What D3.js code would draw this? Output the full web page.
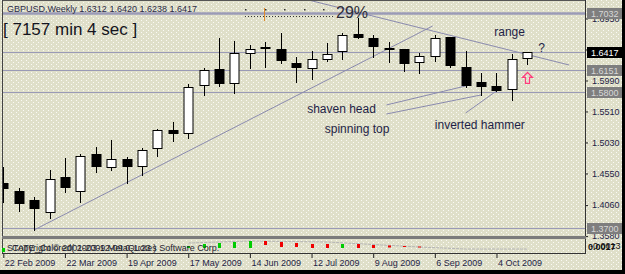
<!DOCTYPE html>
<html>
<head>
<meta charset="utf-8">
<script src="https://cdn.jsdelivr.net/npm/d3@7"></script>
<style>
  body { margin: 0; background: #000; }
  svg { display: block; }
  text { font-family: "Liberation Sans", Arial, sans-serif; }
</style>
</head>
<body>
<div id="chart"></div>
<script>
// GBPUSD weekly bars (week start dates, Sunday)
var weeks = ["2009-02-22","2009-03-01","2009-03-08","2009-03-15","2009-03-22","2009-03-29",
  "2009-04-05","2009-04-12","2009-04-19","2009-04-26","2009-05-03","2009-05-10","2009-05-17",
  "2009-05-24","2009-05-31","2009-06-07","2009-06-14","2009-06-21","2009-06-28","2009-07-05",
  "2009-07-12","2009-07-19","2009-07-26","2009-08-02","2009-08-09","2009-08-16","2009-08-23",
  "2009-08-30","2009-09-06","2009-09-13","2009-09-20","2009-09-27","2009-10-04","2009-10-11",
  "2009-10-18"];

var opens  = [1.4395,1.4263,1.4132,1.3923,1.4488,1.4248,1.4844,1.4632,1.4767,1.4647,1.4917,1.5216,
  1.5154,1.5900,1.6156,1.5928,1.6390,1.6465,1.6465,1.6258,1.6156,1.6300,1.6416,1.6702,1.6633,
  1.6481,1.6465,1.6249,1.6351,1.6648,1.6187,1.5954,1.5902,1.5835,1.6312];
var highs  = [1.4643,1.4318,1.4183,1.4596,1.4774,1.4839,1.4953,1.5061,1.4802,1.4932,1.5227,1.5344,
  1.5923,1.6171,1.6636,1.6594,1.6532,1.6578,1.6713,1.6342,1.6444,1.6558,1.6710,1.6945,1.6687,
  1.6583,1.6468,1.6403,1.6687,1.6651,1.6439,1.6094,1.6103,1.6388,1.6420];
var lows   = [1.4101,1.3954,1.3667,1.3845,1.4260,1.4105,1.4570,1.4596,1.4390,1.4519,1.4818,1.5050,
  1.5087,1.5753,1.5897,1.5784,1.6171,1.6187,1.6258,1.5954,1.6001,1.6284,1.6311,1.6633,1.6351,
  1.6269,1.6129,1.6094,1.6289,1.6196,1.5886,1.5758,1.5820,1.5680,1.6238];
var closes = [1.4302,1.4070,1.3992,1.4452,1.4322,1.4818,1.4647,1.4767,1.4647,1.4906,1.5216,1.5154,
  1.5886,1.6137,1.5928,1.6408,1.6465,1.6496,1.6289,1.6180,1.6315,1.6393,1.6679,1.6645,1.6493,
  1.6447,1.6238,1.6362,1.6636,1.6207,1.5897,1.5886,1.5824,1.6318,1.6417];

// price scale and time scale labels
var priceTicks = [1.3580,1.4060,1.4550,1.5030,1.5510,1.5990,1.6470,1.6950];
var timeTicks = ["2009-02-22","2009-03-22","2009-04-19","2009-05-17","2009-06-14",
  "2009-07-12","2009-08-09","2009-09-06","2009-10-04"];

// horizontal levels drawn on the chart (the last one is the bid)
var levels = [1.7032,1.6151,1.5800,1.3700];
var bid = 1.6417;

// trend lines: [date, price] -> [date, price]
var trendLines = [
  [["2009-03-08",1.3667],["2009-09-05",1.6826]],
  [["2009-07-11",1.7225],["2009-11-06",1.6222]]
];

// pattern notes with their pointer lines
var notes = [
  {text:"shaven head",     at:["2009-07-10",1.5479], from:["2009-08-15",1.5603], to:["2009-09-20",1.5897]},
  {text:"spinning top",    at:["2009-07-18",1.5169], from:["2009-08-15",1.5463], to:["2009-09-27",1.5758]},
  {text:"inverted hammer", at:["2009-09-06",1.5231], from:["2009-09-20",1.5479], to:["2009-10-04",1.5820]},
  {text:"range",           at:["2009-10-03",1.6671]},
  {text:"?",               at:["2009-10-23",1.6423]}
];

// STATE indicator histogram: [week index, low, high, colour]
var stateIdx = [0,12,13,14,15,16,17,18,19,20,21,22,23,24,25,26,27];
var stateLo  = [-6,-2,-2,-2,-2,-2, 1,-1,-1,-2,-2,-2,-2,-2,-1.5,-1,-1.5];
var stateHi  = [-2, 0, 2, 3, 4, 5, 5, 4, 3, 2, 2, 2, 2, 1, 0.5, 0,-0.5];
var stateUp  = [ 1, 1, 1, 1, 1, 1, 0, 0, 0, 0, 0, 1, 0, 0, 0, 0, 0];
var stateSig = [[12,3],[16,5],[21,4],[24,1.5],[27,-1],[30,-3],[34,-3]];

var W = 625, H = 274;
var P = {left: 2, right: 585, top: 0, bottom: 236};
var I = {top: 239, bottom: 253};
var bg = "#DFDFC9", ink = "#1E1E46", lineCol = "#9A9AB6";

var parse = d3.utcParse("%Y-%m-%d");
var x = d3.scaleUtc()
  .domain([parse(weeks[0]), parse(weeks[weeks.length - 1])])
  .range([3.3, 527.3]);
var y = d3.scaleLinear().domain([1.3580, 1.6417]).range([235.6, 52.4]);
var yi = d3.scaleLinear().domain([-7, 7]).range([253, 239]);

var svg = d3.select("#chart").append("svg").attr("width", W).attr("height", H);
var defs = svg.append("defs");

// speckled background like the terminal's dither
var pat = defs.append("pattern").attr("id", "dots").attr("width", 5).attr("height", 4)
  .attr("patternUnits", "userSpaceOnUse");
pat.append("rect").attr("width", 5).attr("height", 4).attr("fill", bg);
pat.append("rect").attr("x", 1).attr("y", 0).attr("width", 1).attr("height", 1).attr("fill", "#fafaf4");
pat.append("rect").attr("x", 3).attr("y", 2).attr("width", 1).attr("height", 1).attr("fill", "#fafaf4");

defs.append("clipPath").attr("id", "plotClip").append("rect")
  .attr("x", P.left + 1).attr("y", P.top + 1)
  .attr("width", P.right - P.left - 1).attr("height", P.bottom - P.top - 1);

svg.append("rect").attr("width", W).attr("height", H).attr("fill", "url(#dots)");
// black screen border at right / bottom
svg.append("rect").attr("x", 0).attr("y", 270).attr("width", W).attr("height", 4).attr("fill", "#000");
svg.append("rect").attr("x", 622).attr("y", 0).attr("width", 3).attr("height", H).attr("fill", "#000");

var plot = svg.append("g").attr("clip-path", "url(#plotClip)");

function px(v) { return Math.round(v) + 0.5; }

// levels
plot.selectAll("line.level").data(levels.concat([bid])).enter().append("line")
  .attr("class", "level")
  .attr("x1", P.left).attr("x2", P.right)
  .attr("y1", function(d) { return px(y(d)); })
  .attr("y2", function(d) { return px(y(d)); })
  .attr("stroke", lineCol)
  .attr("stroke-width", function(d, i) { return i === 0 ? 2.5 : 1; });

// trend lines
plot.selectAll("line.trend").data(trendLines).enter().append("line")
  .attr("x1", function(d) { return x(parse(d[0][0])); })
  .attr("y1", function(d) { return y(d[0][1]); })
  .attr("x2", function(d) { return x(parse(d[1][0])); })
  .attr("y2", function(d) { return y(d[1][1]); })
  .attr("stroke", "#8A8AAE").attr("stroke-width", 1);

// note pointers
plot.selectAll("line.ptr").data(notes.filter(function(n) { return n.from; })).enter().append("line")
  .attr("x1", function(d) { return x(parse(d.from[0])); })
  .attr("y1", function(d) { return y(d.from[1]); })
  .attr("x2", function(d) { return x(parse(d.to[0])); })
  .attr("y2", function(d) { return y(d.to[1]); })
  .attr("stroke", "#8A8AAE").attr("stroke-width", 1);

// candles
var bars = weeks.map(function(w, i) {
  return {date: parse(w), o: opens[i], h: highs[i], l: lows[i], c: closes[i]};
});
var cg = plot.selectAll("g.bar").data(bars).enter().append("g")
  .attr("transform", function(d) { return "translate(" + Math.round(x(d.date)) + ",0)"; });
cg.append("line")
  .attr("x1", 0.5).attr("x2", 0.5)
  .attr("y1", function(d) { return Math.round(y(d.h)); })
  .attr("y2", function(d) { return Math.round(y(d.l)) + 1; })
  .attr("stroke", "#000");
cg.append("rect")
  .attr("x", function(d) { return d.c >= d.o ? -4 : -4.5; })
  .attr("y", function(d) {
    var t = Math.round(y(Math.max(d.o, d.c)));
    return d.c >= d.o ? t + 0.5 : t;
  })
  .attr("width", function(d) { return d.c >= d.o ? 9 : 10; })
  .attr("height", function(d) {
    var hgt = Math.max(1, Math.round(y(Math.min(d.o, d.c))) - Math.round(y(Math.max(d.o, d.c))));
    return d.c >= d.o ? Math.max(1, hgt - 1) : Math.max(2, hgt);
  })
  .attr("fill", function(d) { return d.c >= d.o ? "#fff" : "#000"; })
  .attr("stroke", function(d) { return d.c >= d.o ? "#000" : "none"; });

// note texts
plot.selectAll("text.note").data(notes).enter().append("text")
  .attr("x", function(d) { return x(parse(d.at[0])); })
  .attr("y", function(d) { return y(d.at[1]); })
  .attr("font-size", 12).attr("fill", ink)
  .text(function(d) { return d.text; });

// hollow up arrow under the last bar
var last = bars[bars.length - 1];
plot.append("path")
  .attr("transform", "translate(" + (Math.round(x(last.date)) + 0.5) + "," + (y(last.l) + 14) + ")")
  .attr("d", "M0,-5.5L5,-0.5L2,-0.5L2,5.5L-2,5.5L-2,-0.5L-5,-0.5Z")
  .attr("fill", "none").attr("stroke", "#FF3C7C").attr("stroke-width", 1.2);

// bar-time progress ruler with percent
var rx0 = 245, rx1 = 333;
plot.append("line").attr("x1", rx0).attr("x2", rx1).attr("y1", 16.5).attr("y2", 16.5)
  .attr("stroke", "#333").attr("stroke-dasharray", "1,2");
plot.selectAll("rect.rdot").data([0, 0.25, 0.5, 0.75, 1]).enter().append("rect")
  .attr("x", function(d) { return Math.round(rx0 + d * (rx1 - rx0 - 10)); })
  .attr("y", 9).attr("width", 1.5).attr("height", 1.5).attr("fill", "#333");
plot.append("line").attr("x1", 264.5).attr("x2", 264.5).attr("y1", 8).attr("y2", 21)
  .attr("stroke", "#E08A2A").attr("stroke-width", 1);
svg.append("text").attr("x", 336).attr("y", 18).attr("font-size", 16).attr("fill", "#2E2E3A")
  .text("29%");

// header texts
svg.append("text").attr("x", 7).attr("y", 12).attr("font-size", 9).attr("fill", "#2A2A48")
  .text("GBPUSD,Weekly  1.6312 1.6420 1.6238 1.6417");
svg.append("text").attr("x", 3).attr("y", 35).attr("font-size", 17).attr("fill", "#141420")
  .text("[ 7157 min 4 sec ]");

// frames
svg.append("line").attr("x1", P.left).attr("x2", P.right).attr("y1", 0.5).attr("y2", 0.5).attr("stroke", "#555");
svg.append("line").attr("x1", P.left + 0.5).attr("x2", P.left + 0.5).attr("y1", 0).attr("y2", I.bottom).attr("stroke", "#444");
svg.append("line").attr("x1", P.right + 0.5).attr("x2", P.right + 0.5).attr("y1", 0).attr("y2", I.bottom).attr("stroke", "#333");
svg.append("rect").attr("x", P.left).attr("y", P.bottom).attr("width", P.right - P.left + 1).attr("height", 3).attr("fill", "#7C7C7C");
svg.append("line").attr("x1", P.left).attr("x2", P.right + 1).attr("y1", I.bottom + 0.5).attr("y2", I.bottom + 0.5).attr("stroke", "#333");

// price axis
var ya = svg.append("g").attr("transform", "translate(" + (P.right + 1) + ",0.5)")
  .call(d3.axisRight(y).tickValues(priceTicks).tickSize(2).tickPadding(4)
    .tickFormat(d3.format(".4f")));
ya.select(".domain").remove();
ya.selectAll("line").attr("stroke", "#222");
ya.selectAll("text").attr("font-size", 9).attr("fill", ink).attr("font-family", null);

// level price tags
var tags = levels.map(function(v) { return {v: v, bg: "#7E7E7E", fg: "#D8D8D8"}; })
  .concat([{v: bid, bg: "#000", fg: "#fff"}]);
var tg = svg.selectAll("g.tag").data(tags).enter().append("g")
  .attr("transform", function(d) { return "translate(" + (P.right + 2) + "," + Math.round(y(d.v)) + ")"; });
tg.append("rect").attr("x", 0).attr("y", -5).attr("width", 35).attr("height", 11)
  .attr("fill", function(d) { return d.bg; });
tg.append("text").attr("x", 4).attr("y", 3.5).attr("font-size", 9)
  .attr("fill", function(d) { return d.fg; })
  .text(function(d) { return d3.format(".4f")(d.v); });

// STATE indicator
var ig = svg.append("g");
ig.append("polyline")
  .attr("points", stateSig.map(function(p) { return [x(parse(weeks[p[0]])), yi(p[1])].join(","); }).join(" "))
  .attr("fill", "none").attr("stroke", "#B4B4B4").attr("stroke-dasharray", "3,1");
ig.selectAll("rect.st").data(stateIdx).enter().append("rect")
  .attr("x", function(d) { return Math.round(x(parse(weeks[d]))) - 1; })
  .attr("y", function(d, i) { return yi(stateHi[i]); })
  .attr("width", 3)
  .attr("height", function(d, i) { return yi(stateLo[i]) - yi(stateHi[i]); })
  .attr("fill", function(d, i) { return stateUp[i] ? "#00CC00" : "#F00000"; });
ig.append("text").attr("x", 7).attr("y", 251).attr("font-size", 9).attr("fill", "#1E1E30")
  .text("STATE_Colored( 2003-12-09 0-1:23 )");
ig.append("text").attr("x", 12).attr("y", 251).attr("font-size", 9).attr("fill", "#1E1E30")
  .text("Copyright © 2001-2009 MetaQuotes Software Corp.");
ig.append("text").attr("x", 588).attr("y", 250).attr("font-size", 9).attr("font-weight", "bold").attr("fill", "#111")
  .text("0.0017");
ig.append("text").attr("x", 590).attr("y", 249).attr("font-size", 9).attr("fill", "#111")
  .text("-0.0013");

// time axis
var xa = svg.append("g").attr("transform", "translate(0," + (I.bottom + 1) + ")")
  .call(d3.axisBottom(x).tickValues(timeTicks.map(parse)).tickSize(4).tickPadding(2)
    .tickFormat(d3.utcFormat("%-d %b %Y")));
xa.select(".domain").remove();
xa.selectAll("line").attr("stroke", "#222");
xa.selectAll("text").attr("font-size", 9).attr("fill", ink).attr("font-family", null)
  .attr("text-anchor", "start").attr("dx", 1);
</script>
</body>
</html>
